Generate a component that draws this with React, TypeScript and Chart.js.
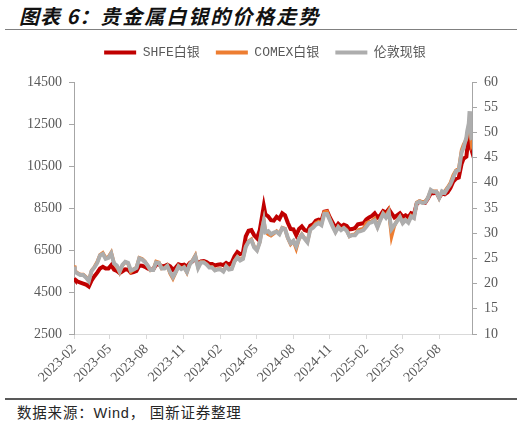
import React, { useEffect, useRef } from "react";
import { Chart, registerables } from "chart.js";

Chart.register(...registerables);

const dates: string[] = [
  "2023-02-01","2023-02-03","2023-02-10","2023-02-17","2023-02-24",
  "2023-03-03","2023-03-10","2023-03-17","2023-03-24","2023-03-31",
  "2023-04-07","2023-04-14","2023-04-21","2023-04-28",
  "2023-05-05","2023-05-12","2023-05-19","2023-05-26",
  "2023-06-02","2023-06-09","2023-06-16","2023-06-23","2023-06-30",
  "2023-07-07","2023-07-14","2023-07-21","2023-07-28",
  "2023-08-04","2023-08-11","2023-08-18","2023-08-25",
  "2023-09-01","2023-09-08","2023-09-15","2023-09-22","2023-09-29",
  "2023-10-06","2023-10-13","2023-10-20","2023-10-27",
  "2023-11-03","2023-11-10","2023-11-17","2023-11-24",
  "2023-12-01","2023-12-08","2023-12-15","2023-12-22","2023-12-29",
  "2024-01-05","2024-01-12","2024-01-19","2024-01-26",
  "2024-02-02","2024-02-09","2024-02-16","2024-02-23",
  "2024-03-01","2024-03-08","2024-03-15","2024-03-22","2024-03-29",
  "2024-04-05","2024-04-12","2024-04-19","2024-04-26",
  "2024-05-03","2024-05-10","2024-05-17","2024-05-20","2024-05-24","2024-05-31",
  "2024-06-07","2024-06-14","2024-06-21","2024-06-28",
  "2024-07-05","2024-07-12","2024-07-19","2024-07-26",
  "2024-08-02","2024-08-09","2024-08-16","2024-08-23","2024-08-30",
  "2024-09-06","2024-09-13","2024-09-20","2024-09-27",
  "2024-10-04","2024-10-11","2024-10-18","2024-10-25",
  "2024-11-01","2024-11-08","2024-11-15","2024-11-22","2024-11-29",
  "2024-12-06","2024-12-13","2024-12-20","2024-12-27",
  "2025-01-03","2025-01-10","2025-01-17","2025-01-24","2025-01-31",
  "2025-02-07","2025-02-14","2025-02-21","2025-02-28",
  "2025-03-07","2025-03-14","2025-03-21","2025-03-28",
  "2025-04-04","2025-04-11","2025-04-18","2025-04-25",
  "2025-05-02","2025-05-09","2025-05-16","2025-05-23","2025-05-30",
  "2025-06-06","2025-06-13","2025-06-20","2025-06-27",
  "2025-07-04","2025-07-11","2025-07-18","2025-07-25",
  "2025-08-01","2025-08-08","2025-08-15","2025-08-22","2025-08-29",
  "2025-09-05","2025-09-12","2025-09-19","2025-09-26",
  "2025-10-01","2025-10-08","2025-10-10","2025-10-14","2025-10-16","2025-10-17","2025-10-21","2025-10-22",
];

// SHFE 白银 (元/千克, 左轴)
const shfeSilver: number[] = [
  5150, 5100, 5000, 4950, 4900,
  4850, 4760, 5050, 5250, 5420,
  5620, 5700, 5620, 5620,
  5780, 5560, 5500, 5400,
  5480, 5580, 5560, 5420, 5450,
  5500, 5760, 5750, 5700,
  5620, 5560, 5580, 5800,
  5820, 5720, 5740, 5800, 5720,
  5560, 5660, 5820, 5780,
  5800, 5700, 5880, 5960,
  6080, 5850, 5960, 5970, 5920,
  5840, 5830, 5760, 5800,
  5820, 5780, 5880, 5800,
  5900, 6200, 6400, 6300, 6380,
  7150, 7420, 7450, 7200,
  7060, 7450, 8250, 8600, 8200, 8100,
  7920, 7900, 8080, 7980,
  8250, 8150, 7800, 7500,
  7480, 7200, 7500, 7620, 7450,
  7400, 7650, 7720, 7900,
  7950, 7900, 8320, 8350,
  8050, 7800, 7550, 7750, 7620,
  7700, 7650, 7480, 7500,
  7550, 7720, 7750, 7780, 7950,
  8050, 8120, 8250, 8050,
  8150, 8350, 8280, 8450,
  8250, 8050, 8150, 8250,
  8080, 8150, 8050, 8250, 8200,
  8700, 8800, 8780, 8750,
  8950, 9200, 9200, 9250,
  9000, 9200, 9150, 9250, 9450,
  9750, 9900, 9950, 10600,
  10850, 10950, 11300, 11900, 11750, 11500, 11250, 11350,
];

// COMEX 白银 (美元/盎司, 右轴)
const comexSilver: number[] = [
  23.6, 22.5, 22.1, 21.8, 21.8,
  21.3, 20.6, 22.6, 23.3, 24.3,
  25.7, 26.1, 25.1, 25.3,
  26.2, 24.0, 23.4, 22.2,
  23.6, 24.3, 24.0, 22.3, 22.8,
  23.2, 25.1, 24.9, 24.4,
  23.5, 22.6, 22.8, 24.4,
  24.2, 23.0, 23.1, 23.6, 22.0,
  21.0, 22.2, 23.5, 23.0,
  23.3, 22.2, 23.9, 24.6,
  25.6, 23.2, 24.3, 24.3, 23.9,
  23.3, 23.3, 22.7, 22.9,
  22.9, 22.5, 23.5, 22.9,
  23.0, 24.5, 25.3, 24.7, 25.0,
  27.4, 28.4, 28.8, 27.3,
  26.7, 28.3, 31.5, 32.6, 30.3, 29.8,
  29.5, 29.9, 30.4, 29.9,
  31.1, 30.9, 29.0, 27.8,
  28.4, 26.9, 28.9, 29.8, 29.0,
  28.3, 30.8, 31.3, 32.0,
  32.3, 31.8, 34.2, 34.3,
  32.8, 31.4, 30.3, 31.3, 30.7,
  31.1, 30.6, 29.4, 29.7,
  29.8, 30.6, 30.8, 30.9, 32.0,
  32.3, 32.4, 32.9, 31.3,
  32.8, 34.0, 33.4, 34.5,
  29.3, 31.4, 32.6, 33.3,
  32.1, 32.7, 32.3, 33.5, 33.1,
  36.1, 36.4, 36.2, 36.3,
  37.0, 38.5, 38.3, 38.3,
  37.0, 38.2, 38.3, 39.1, 40.0,
  41.5, 42.5, 42.8, 46.5,
  47.6, 48.6, 49.8, 50.2, 50.8, 50.6, 47.6, 47.8,
];

// 伦敦现银 (美元/盎司, 右轴)
const londonSilver: number[] = [
  23.4, 22.4, 22.0, 21.7, 21.7,
  21.2, 20.5, 22.5, 23.2, 24.1,
  25.6, 25.9, 24.9, 25.1,
  26.0, 24.0, 23.6, 22.4,
  23.7, 24.3, 24.1, 22.6, 22.8,
  23.1, 25.0, 24.8, 24.3,
  23.6, 22.7, 22.7, 24.2,
  24.1, 23.0, 23.0, 23.5, 22.3,
  21.3, 22.3, 23.4, 22.9,
  23.2, 22.3, 23.8, 24.5,
  25.4, 23.1, 24.2, 24.2, 23.8,
  23.2, 23.2, 22.6, 22.8,
  22.8, 22.4, 23.4, 22.8,
  22.9, 24.4, 25.2, 24.6, 24.9,
  27.3, 28.3, 28.6, 27.2,
  26.6, 28.2, 31.3, 32.4, 30.2, 30.4,
  29.8, 30.1, 30.3, 29.8,
  31.0, 30.8, 29.1, 28.0,
  28.5, 27.4, 28.9, 29.7, 28.9,
  28.2, 30.7, 31.1, 31.7,
  32.0, 31.6, 33.8, 33.8,
  32.6, 31.3, 30.2, 31.2, 30.6,
  31.0, 30.5, 29.4, 29.6,
  29.6, 30.3, 30.4, 30.6, 31.3,
  32.0, 32.2, 32.5, 31.2,
  32.6, 33.8, 33.1, 34.1,
  30.8, 31.6, 32.4, 33.2,
  32.0, 32.6, 32.1, 33.3, 33.0,
  36.0, 36.3, 36.0, 36.1,
  37.0, 38.6, 38.2, 38.2,
  37.0, 38.3, 38.0, 38.9, 39.7,
  41.0, 42.3, 42.5, 46.0,
  47.0, 49.0, 50.2, 51.8, 54.2, 52.3, 48.7, 48.6,
];

const xTickLabels: string[] = [
  "2023-02","2023-05","2023-08","2023-11","2024-02","2024-05",
  "2024-08","2024-11","2025-02","2025-05","2025-08",
];

const seriesNames: string[] = ["SHFE白银", "COMEX白银", "伦敦现银"];
const seriesColors: string[] = ["#C00000", "#ED7D31", "#ADADAD"];

const leftMin = 2500;
const leftMax = 14500;
const leftStep = 2000;
const rightMin = 10;
const rightMax = 60;
const rightStep = 5;

const toTime = (d: string) => Date.parse(d + "T00:00:00Z");
const xStart = toTime("2023-02-01");
const xEnd = toTime(dates[dates.length - 1]);

const tickFont = { family: "'Liberation Serif', 'Times New Roman', serif", size: 14 };
const tickColor = "#595959";
const axisColor = "#A6A6A6";

const legendSpacer = {
  id: "legendSpacer",
  beforeInit(chart: any) {
    const legend = chart.legend;
    if (!legend) return;
    const origFit = legend.fit;
    legend.fit = function fit() {
      origFit.call(legend);
      legend.height += 13;
    };
  },
};

export default function App() {
  const canvasRef = useRef<HTMLCanvasElement | null>(null);

  useEffect(() => {
    if (!canvasRef.current) return;
    const pts = (vals: number[]) => vals.map((v, i) => ({ x: toTime(dates[i]), y: v }));
    const chart = new Chart(canvasRef.current, {
      type: "line",
      data: {
        datasets: [
          {
            label: seriesNames[0],
            data: pts(shfeSilver),
            yAxisID: "y",
            borderColor: seriesColors[0],
            backgroundColor: seriesColors[0],
            borderWidth: 4,
            pointRadius: 0,
            tension: 0,
            order: 3,
          },
          {
            label: seriesNames[1],
            data: pts(comexSilver),
            yAxisID: "y1",
            borderColor: seriesColors[1],
            backgroundColor: seriesColors[1],
            borderWidth: 3.5,
            pointRadius: 0,
            tension: 0,
            order: 2,
          },
          {
            label: seriesNames[2],
            data: pts(londonSilver),
            yAxisID: "y1",
            borderColor: seriesColors[2],
            backgroundColor: seriesColors[2],
            borderWidth: 4,
            pointRadius: 0,
            tension: 0,
            order: 1,
          },
        ],
      },
      plugins: [legendSpacer],
      options: {
        animation: false,
        responsive: true,
        maintainAspectRatio: false,
        parsing: false as any,
        layout: { padding: { top: 4, left: 0, right: 0, bottom: 0 } },
        plugins: {
          tooltip: { enabled: false },
          legend: {
            position: "top",
            labels: {
              boxWidth: 32,
              boxHeight: 4,
              padding: 16,
              color: tickColor,
              font: { family: "'Liberation Mono', 'Noto Sans CJK SC', monospace", size: 13 },
              sort: (a: any, b: any) => a.datasetIndex - b.datasetIndex,
              generateLabels: (ch: any) => {
                const items = Chart.defaults.plugins.legend.labels.generateLabels(ch);
                return items.map((it: any) => ({ ...it, lineWidth: 0 }));
              },
            },
          },
        },
        scales: {
          x: {
            type: "linear",
            min: xStart,
            max: xEnd,
            afterBuildTicks: (scale: any) => {
              scale.ticks = xTickLabels.map((l) => ({ value: toTime(l + "-01") }));
            },
            afterFit: (scale: any) => {
              scale.height = 64;
            },
            ticks: {
              autoSkip: false,
              minRotation: 45,
              maxRotation: 45,
              padding: 2,
              font: tickFont,
              color: tickColor,
              callback: (v: any) => {
                const d = new Date(Number(v));
                return `${d.getUTCFullYear()}-${String(d.getUTCMonth() + 1).padStart(2, "0")}`;
              },
            },
            grid: { drawOnChartArea: false, drawTicks: true, tickLength: 5, color: "#D9D9D9" },
            border: { color: "#D9D9D9", width: 1 },
          },
          y: {
            type: "linear",
            position: "left",
            min: leftMin,
            max: leftMax,
            afterFit: (scale: any) => {
              scale.width = 74;
            },
            ticks: {
              stepSize: leftStep,
              font: tickFont,
              color: tickColor,
              padding: 7,
              callback: (v: any) => String(v),
            },
            grid: { drawOnChartArea: false, drawTicks: true, tickLength: 5, color: axisColor },
            border: { color: axisColor, width: 1 },
          },
          y1: {
            type: "linear",
            position: "right",
            min: rightMin,
            max: rightMax,
            afterFit: (scale: any) => {
              scale.width = 58;
            },
            ticks: {
              stepSize: rightStep,
              font: tickFont,
              color: tickColor,
              padding: 7,
              callback: (v: any) => String(v),
            },
            grid: { drawOnChartArea: false, drawTicks: true, tickLength: 5, color: axisColor },
            border: { color: axisColor, width: 1 },
          },
        },
      },
    } as any);
    return () => chart.destroy();
  }, []);

  return (
    <div
      style={{
        position: "fixed",
        left: 0,
        top: 0,
        width: 530,
        height: 427,
        background: "#ffffff",
        overflow: "hidden",
      }}
    >
      <div
        style={{
          position: "absolute",
          left: 19,
          top: 3,
          fontFamily: "'Noto Sans CJK SC', sans-serif",
          fontStyle: "italic",
          fontWeight: 700,
          fontSize: 20,
          lineHeight: "26px",
          color: "#111111",
          whiteSpace: "nowrap",
        }}
      >
        <span style={{ letterSpacing: 1 }}>图表 6：</span>
        <span style={{ letterSpacing: 2 }}>贵金属白银的价格走势</span>
      </div>
      <div style={{ position: "absolute", left: 5, top: 29, width: 512, height: 1, background: "#808080" }} />
      <div style={{ position: "absolute", left: 0, top: 26, width: 530, height: 372 }}>
        <canvas ref={canvasRef} />
      </div>
      <div style={{ position: "absolute", left: 5, top: 398, width: 512, height: 2, background: "#595959" }} />
      <div
        style={{
          position: "absolute",
          left: 17,
          top: 404,
          fontFamily: "'Liberation Sans', 'Noto Sans CJK SC', sans-serif",
          fontSize: 14.5,
          letterSpacing: 0.8,
          lineHeight: "18px",
          color: "#262626",
          whiteSpace: "nowrap",
        }}
      >
        数据来源：Wind， 国新证券整理
      </div>
    </div>
  );
}
